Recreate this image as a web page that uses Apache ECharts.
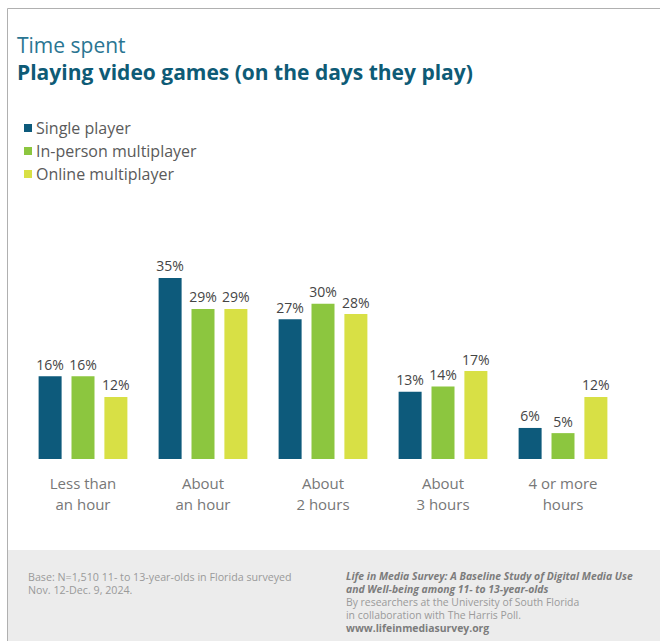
<!DOCTYPE html>
<html>
<head>
<meta charset="utf-8">
<style>
  html, body { margin: 0; padding: 0; background: #ffffff; }
  #chart { width: 660px; height: 641px; }
</style>
<script src="https://cdn.jsdelivr.net/npm/echarts@6/dist/echarts.min.js"></script>
</head>
<body>
<div id="chart"></div>
<script>
// Time-spent categories (x axis)
const categories = ['Less than\nan hour', 'About\nan hour', 'About\n2 hours', 'About\n3 hours', '4 or more\nhours'];

// Share of players (%) per category
const singlePlayer = [16, 35, 27, 13, 6];
const inPersonMultiplayer = [16, 29, 30, 14, 5];
const onlineMultiplayer = [12, 29, 28, 17, 12];

const seriesNames = ['Single player', 'In-person multiplayer', 'Online multiplayer'];
const seriesColors = ['#0d5a7b', '#8cc63f', '#d8e045'];

const footerLeft = [
  'Base: N=1,510 11- to 13-year-olds in Florida surveyed',
  'Nov. 12-Dec. 9, 2024.'
];
const footerRight = [
  'Life in Media Survey: A Baseline Study of Digital Media Use',
  'and Well-being among 11- to 13-year-olds',
  'By researchers at the University of South Florida',
  'in collaboration with The Harris Poll.',
  'www.lifeinmediasurvey.org'
];

const FONT = '"Open Sans", "Noto Sans", sans-serif';
const chart = echarts.init(document.getElementById('chart'), null, { renderer: 'svg' });

function barSeries(name, data, color) {
  return {
    name: name,
    type: 'bar',
    data: data,
    barWidth: 23,
    barGap: '43%',
    itemStyle: { color: color },
    label: {
      show: true,
      position: 'top',
      distance: 5,
      formatter: '{c}%',
      fontFamily: FONT,
      fontSize: 14,
      color: '#454545'
    },
    emphasis: { disabled: true }
  };
}

const footerGraphics = [];
footerLeft.forEach((t, i) => {
  footerGraphics.push({
    type: 'text', left: 28, top: 571 + i * 13,
    style: { text: t, font: '10.7px ' + FONT, fill: '#9a9a9a' }
  });
});
footerRight.forEach((t, i) => {
  const bold = i === 0 || i === 1 || i === 4;
  const italic = i < 2;
  footerGraphics.push({
    type: 'text', left: 346, top: 571 + i * 13,
    style: {
      text: t,
      font: (italic ? 'italic ' : '') + (bold ? 'bold ' : '') + '10.4px ' + FONT,
      fill: bold ? '#7c7c7c' : '#9a9a9a'
    }
  });
});

chart.setOption({
  animation: false,
  textStyle: { fontFamily: FONT },
  title: [
    {
      text: 'Time spent',
      left: 12, top: 29,
      textStyle: { fontFamily: FONT, fontSize: 21, fontWeight: 'normal', color: '#2a7592' }
    },
    {
      text: 'Playing video games (on the days they play)',
      left: 12, top: 56,
      textStyle: { fontFamily: FONT, fontSize: 21, fontWeight: 'bold', color: '#0e5b76' }
    }
  ],
  legend: {
    orient: 'vertical',
    left: 19, top: 115,
    icon: 'rect',
    itemWidth: 8, itemHeight: 8,
    itemGap: 7,
    selectedMode: false,
    textStyle: { fontFamily: FONT, fontSize: 16, color: '#5a5a5a', padding: [0, 0, 0, -1] },
    data: seriesNames
  },
  grid: { left: 23, right: 37, top: 252, bottom: 182 },
  xAxis: {
    type: 'category',
    data: categories,
    axisLine: { show: false },
    axisTick: { show: false },
    axisLabel: {
      margin: 13,
      fontFamily: FONT,
      fontSize: 15,
      lineHeight: 21,
      color: '#777777'
    }
  },
  yAxis: {
    type: 'value',
    min: 0, max: 40,
    show: false,
    splitLine: { show: false }
  },
  series: [
    barSeries(seriesNames[0], singlePlayer, seriesColors[0]),
    barSeries(seriesNames[1], inPersonMultiplayer, seriesColors[1]),
    barSeries(seriesNames[2], onlineMultiplayer, seriesColors[2])
  ],
  color: seriesColors,
  graphic: [
    { type: 'rect', shape: { x: 8, y: 550, width: 652, height: 91 }, style: { fill: '#ececec' }, z: -1 },
    { type: 'polyline', shape: { points: [[7.5, 641], [7.5, 8.5], [660, 8.5]] }, style: { stroke: '#b0b0b0', lineWidth: 1, fill: null } }
  ].concat(footerGraphics)
});
</script>
</body>
</html>
